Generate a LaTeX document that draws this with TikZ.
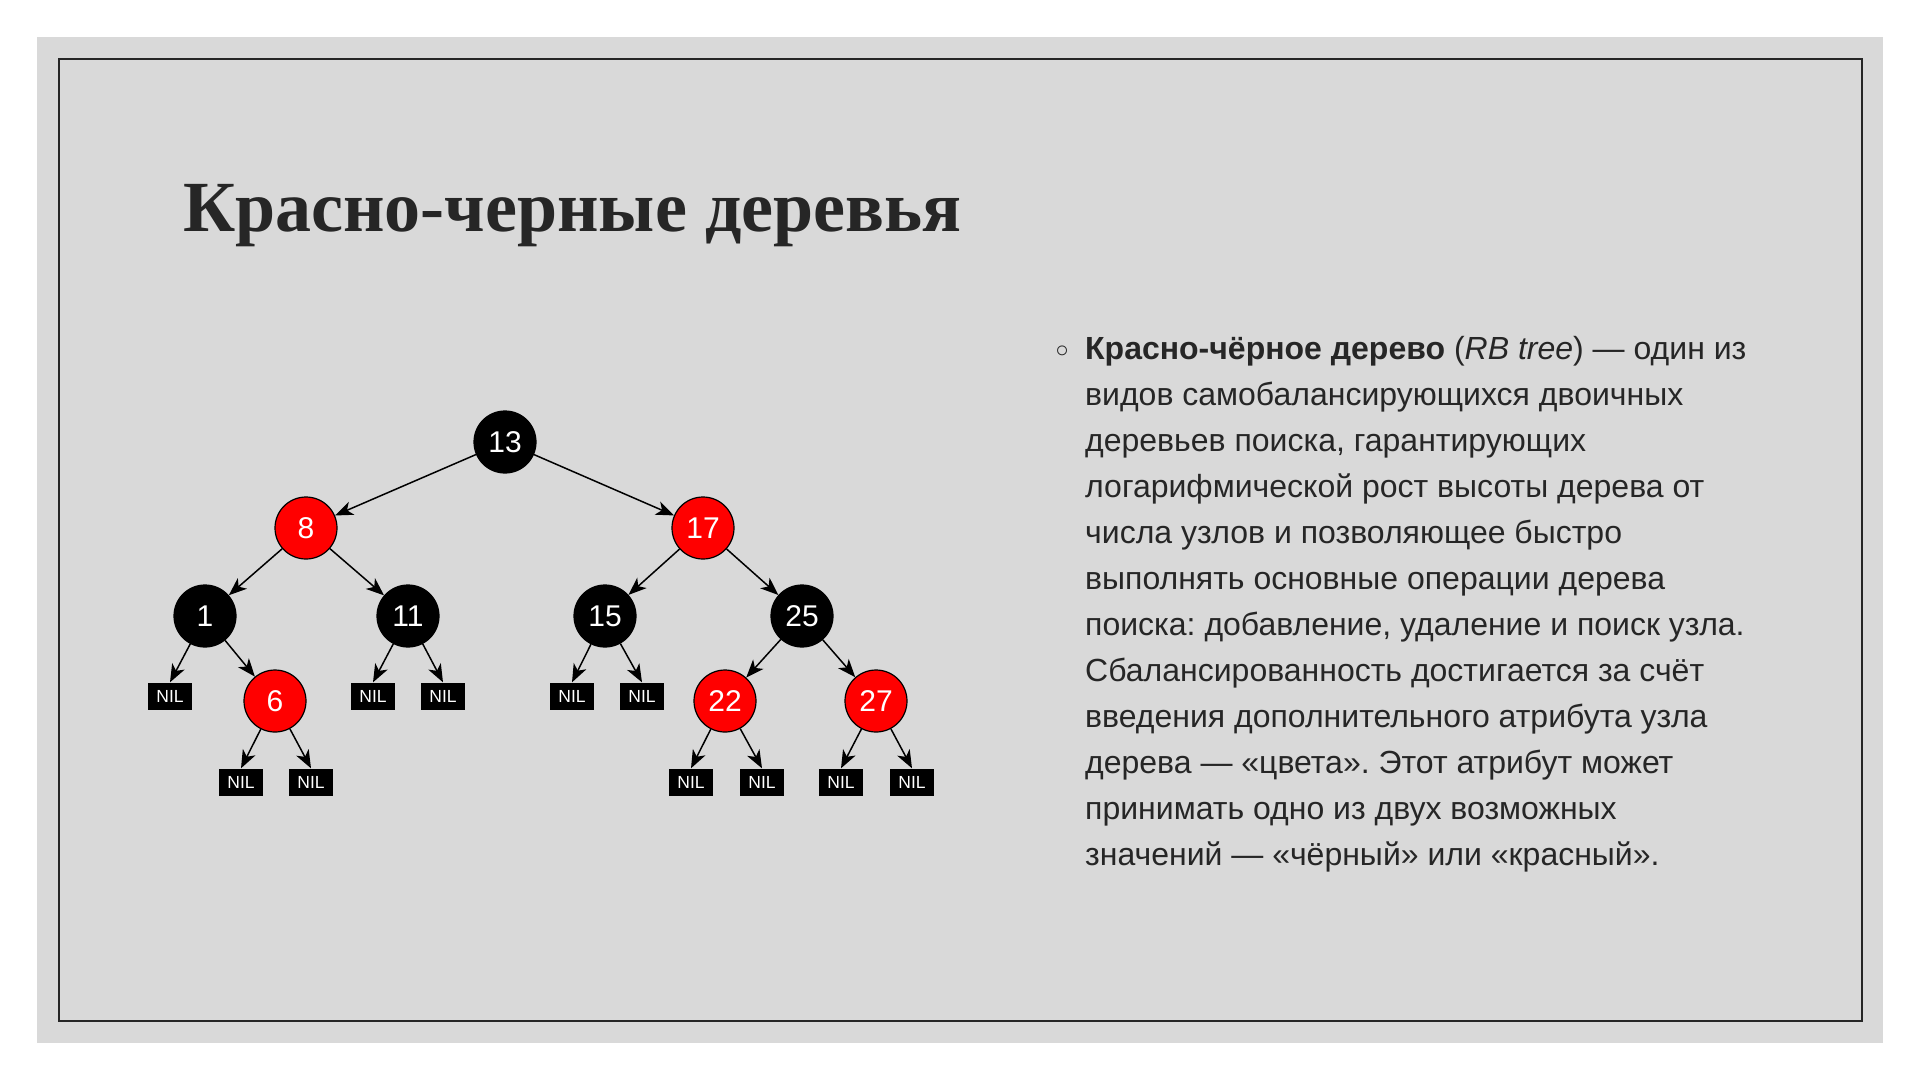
\documentclass[tikz,border=0pt]{standalone}
\usepackage{fontspec}
\setmainfont{Liberation Serif}
\newfontfamily\sansfont{Liberation Sans}
\newfontfamily\symfont{DejaVu Sans}
\usetikzlibrary{arrows.meta}
\frenchspacing

\definecolor{slidebg}{HTML}{D9D9D9}
\definecolor{ink}{HTML}{262626}
\definecolor{rbred}{HTML}{FF0000}

\tikzset{
  keynode/.style={circle, minimum size=62pt, inner sep=0pt, draw=black,
    line width=1.2pt, text=white, font=\sansfont\fontsize{30}{36}\selectfont},
  blacknode/.style={keynode, fill=black},
  rednode/.style={keynode, fill=rbred},
  nilnode/.style={rectangle, fill=black, minimum width=44pt, minimum height=27pt,
    inner sep=0pt, text=white, font=\sansfont\fontsize{17.5}{20}\selectfont},
  edge/.style={draw=black, line width=1.5pt,
    -{Stealth[length=18pt, width=14pt, inset=5pt]}},
  bodyline/.style={anchor=base west, inner sep=0pt, text=ink,
    font=\sansfont\fontsize{32}{46}\selectfont},
}

\begin{document}
\begin{tikzpicture}[x=1pt, y=-1pt]
  \useasboundingbox (0,0) rectangle (1920,1080);
  \fill[white] (0,0) rectangle (1920,1080);

  % slide background and frame
  \fill[slidebg] (37,37) rectangle (1883,1043);
  \draw[ink, line width=1.3pt] (59,59) rectangle (1862,1021);

  % title
  \node[anchor=base west, inner sep=0pt, text=ink,
        font=\bfseries\fontsize{72}{86}\selectfont] (title) at (183,231)
        {Красно-черные деревья};

  % tree keys
  \node[blacknode] (k13) at (505,442) {13};
  \node[rednode]   (k8)  at (306,528) {8};
  \node[rednode]   (k17) at (703,528) {17};
  \node[blacknode] (k1)  at (205,616) {1};
  \node[blacknode] (k11) at (408,616) {11};
  \node[blacknode] (k15) at (605,616) {15};
  \node[blacknode] (k25) at (802,616) {25};
  \node[rednode]   (k6)  at (275,701) {6};
  \node[rednode]   (k22) at (725,701) {22};
  \node[rednode]   (k27) at (876,701) {27};

  % leaves
  \node[nilnode] (n1)   at (170,696) {NIL};
  \node[nilnode] (n11a) at (373,696) {NIL};
  \node[nilnode] (n11b) at (443,696) {NIL};
  \node[nilnode] (n15a) at (572,696) {NIL};
  \node[nilnode] (n15b) at (642,696) {NIL};
  \node[nilnode] (n6a)  at (241,782) {NIL};
  \node[nilnode] (n6b)  at (311,782) {NIL};
  \node[nilnode] (n22a) at (691,782) {NIL};
  \node[nilnode] (n22b) at (762,782) {NIL};
  \node[nilnode] (n27a) at (841,782) {NIL};
  \node[nilnode] (n27b) at (912,782) {NIL};

  % edges
  \draw[edge] (k13) -- (k8);
  \draw[edge] (k13) -- (k17);
  \draw[edge] (k8) -- (k1);
  \draw[edge] (k8) -- (k11);
  \draw[edge] (k17) -- (k15);
  \draw[edge] (k17) -- (k25);
  \draw[edge] (k1) -- (n1.north);
  \draw[edge] (k1) -- (k6);
  \draw[edge] (k11) -- (n11a.north);
  \draw[edge] (k11) -- (n11b.north);
  \draw[edge] (k15) -- (n15a.north);
  \draw[edge] (k15) -- (n15b.north);
  \draw[edge] (k25) -- (k22);
  \draw[edge] (k25) -- (k27);
  \draw[edge] (k6) -- (n6a.north);
  \draw[edge] (k6) -- (n6b.north);
  \draw[edge] (k22) -- (n22a.north);
  \draw[edge] (k22) -- (n22b.north);
  \draw[edge] (k27) -- (n27a.north);
  \draw[edge] (k27) -- (n27b.north);

  % description
  \node[anchor=center, inner sep=0pt, text=ink,
        font=\symfont\fontsize{34}{40}\selectfont] (bullet) at (1063,355) {◦};
  \node[bodyline] (l1)  at (1085,359) {\textbf{Красно-чёрное дерево} (\textit{RB tree}) — один из};
  \node[bodyline] (l2)  at (1085,405) {видов самобалансирующихся двоичных};
  \node[bodyline] (l3)  at (1085,451) {деревьев поиска, гарантирующих};
  \node[bodyline] (l4)  at (1085,497) {логарифмической рост высоты дерева от};
  \node[bodyline] (l5)  at (1085,543) {числа узлов и позволяющее быстро};
  \node[bodyline] (l6)  at (1085,589) {выполнять основные операции дерева};
  \node[bodyline] (l7)  at (1085,635) {поиска: добавление, удаление и поиск узла.};
  \node[bodyline] (l8)  at (1085,681) {Сбалансированность достигается за счёт};
  \node[bodyline] (l9)  at (1085,727) {введения дополнительного атрибута узла};
  \node[bodyline] (l10) at (1085,773) {дерева — «цвета». Этот атрибут может};
  \node[bodyline] (l11) at (1085,819) {принимать одно из двух возможных};
  \node[bodyline] (l12) at (1085,865) {значений — «чёрный» или «красный».};
\end{tikzpicture}
\end{document}
